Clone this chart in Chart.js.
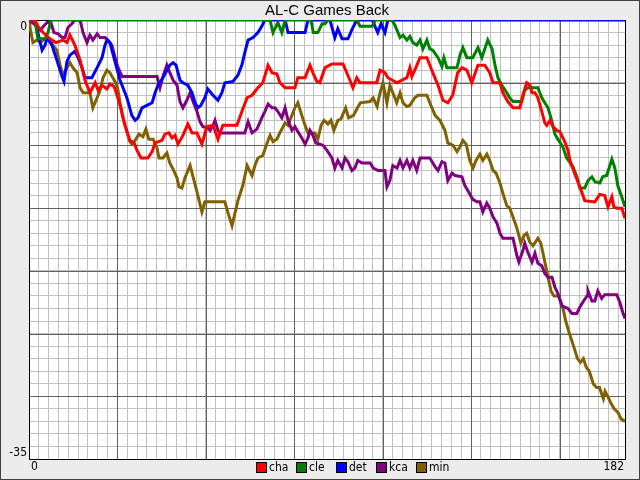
<!DOCTYPE html>
<html>
<head>
<meta charset="utf-8">
<script src="https://cdn.jsdelivr.net/npm/chart.js@4/dist/chart.umd.min.js"></script>
<style>
  html, body { margin: 0; padding: 0; background: #ececec; }
  canvas { display: block; }
</style>
</head>
<body>
<canvas id="gbChart" width="640" height="480"></canvas>
<script>
// AL-C games back by day of season: [day, games back]
const teams = ['cha', 'cle', 'det', 'kca', 'min'];
const teamColors = ['#ff0000', '#008000', '#0000ff', '#800080', '#806000'];

const chaGB = [[0,0],[1.8,0],[2.7,0.5],[4.3,1.0],[6.4,1.5],[8.2,1.8],[10.4,1.6],[11.6,1.8],[12.5,1.2],[14.0,2.0],[15.6,3.2],[17.1,4.8],[18.6,5.8],[20.2,5.0],[21.1,5.6],[22.3,5.2],[23.8,5.5],[24.7,5.1],[26.0,5.3],[26.9,6.0],[27.8,6.8],[29.3,8.4],[30.8,9.6],[32.1,9.8],[33.0,10.4],[34.2,11],[36.3,11],[37.6,10.5],[38.5,9.8],[40.6,9.6],[41.5,9.1],[42.7,9.0],[43.7,9.4],[44.6,9.2],[45.5,9.9],[47.0,9.2],[48.5,8.3],[49.8,9.0],[51.3,9.0],[52.8,9.9],[54.3,8.5],[56.2,8.4],[57.7,9.5],[59.2,8.4],[63.5,8.4],[65.0,7.3],[66.6,6.2],[68.1,6.0],[69.9,5.4],[71.4,5.0],[73.0,3.6],[74.2,4.2],[75.7,4.3],[76.6,5.0],[78.2,5.4],[81.2,5.4],[82.1,4.6],[84.3,4.6],[85.8,3.6],[87.0,4.4],[87.9,4.9],[88.8,5.0],[90.4,3.8],[92.5,3.5],[95.9,3.5],[98.0,4.8],[98.9,5.4],[100.1,4.6],[101.1,5.0],[106.2,5.0],[107.2,4.0],[108.7,4.2],[109.6,4.6],[112.4,5.0],[113.9,4.8],[115.4,4.6],[116.3,3.8],[116.9,4.5],[117.8,4.0],[119.4,3.0],[121.5,3.0],[123.3,4.2],[124.9,5.2],[126.4,6.4],[127.9,6.6],[129.4,6.0],[130.9,4.2],[132.2,3.8],[133.7,4.0],[135.2,5.0],[137.1,3.6],[139.2,3.6],[140.7,4.2],[141.7,5.0],[143.8,5.0],[144.7,5.8],[146.2,6.5],[147.8,7.0],[149.9,7.0],[150.8,6.0],[152.0,5.0],[153.0,5.2],[153.6,5.8],[154.5,5.8],[155.4,6.2],[156.6,7.3],[157.5,8.2],[158.1,8.4],[159.1,8.0],[160.0,8.5],[161.2,8.8],[162.1,8.9],[163.6,9.7],[164.6,10.4],[165.2,11.2],[166.7,12.3],[168.2,13.3],[169.7,14.4],[172.8,14.5],[174.3,13.9],[175.8,14.0],[176.8,14.9],[178.0,14.1],[178.6,14.9],[179.5,15.0],[181.0,15.0],[182,15.8]];

const cleGB = [[0,0],[1.8,0],[2.7,1.5],[4.9,1.5],[5.8,1.0],[6.7,0],[73.6,0],[74.5,1.0],[76.0,0.2],[77.2,1.0],[78.2,0],[86.1,0],[86.8,1.0],[88.2,1.0],[89.5,0.3],[90.4,0.3],[91.3,0],[100.1,0],[101.1,0.5],[104.8,0.5],[105.8,0],[110.8,0],[111.7,0.4],[113.3,1.4],[114.2,1.2],[115.4,1.6],[116.3,1.3],[117.2,1.8],[118.4,2.0],[119.4,1.6],[120.3,2.3],[121.5,1.6],[122.4,2.3],[123.3,2.4],[124.9,3.0],[126.1,3.7],[126.7,3.0],[127.6,3.8],[130.7,3.8],[131.6,2.8],[132.5,2.2],[133.7,3.0],[135.5,3.0],[137.1,2.2],[138.3,3.0],[140.1,1.6],[141.4,2.3],[142.3,3.6],[143.2,4.6],[144.4,5.2],[145.9,5.8],[146.8,6.2],[147.8,6.5],[150.5,6.5],[151.4,5.6],[152.3,5.4],[155.4,5.4],[156.6,6.2],[157.5,6.6],[158.5,7.0],[159.7,8.1],[160.6,9.1],[161.5,9.5],[163.0,10.1],[164.2,11.0],[166.1,11.7],[167.3,12.5],[168.2,13.4],[169.7,13.4],[170.7,12.8],[171.9,12.5],[172.8,12.9],[174.3,13.0],[175.2,12.5],[176.4,12.4],[177.4,11.6],[178.0,11.1],[178.9,11.8],[179.8,13.2],[181.0,14.1],[182,14.9]];

const detGB = [[0,0],[1.8,0],[2.7,1.0],[4.0,2.4],[4.9,2.0],[5.5,1.4],[7.0,2.0],[8.5,3.2],[10.1,4.5],[10.7,4.9],[11.6,3.3],[12.5,2.8],[14.0,2.5],[15.0,3.0],[16.2,3.8],[17.1,4.6],[19.2,4.6],[20.8,3.8],[22.3,3.0],[23.2,2.0],[23.8,1.6],[24.7,1.8],[27.8,4.8],[29.9,6.2],[31.4,7.6],[32.4,8.0],[33.3,7.8],[34.5,7.0],[36.0,6.8],[37.6,6.6],[38.5,5.8],[39.4,5.2],[40.9,4.6],[43.0,3.6],[44.0,3.4],[44.9,3.6],[45.5,4.2],[46.1,4.8],[47.0,5.0],[48.5,5.2],[49.8,5.8],[50.7,6.6],[51.6,7.0],[52.5,6.8],[53.7,6.2],[54.6,5.5],[56.2,6.0],[57.7,6.4],[58.9,5.8],[59.8,5.0],[62.3,4.9],[63.8,4.4],[65.0,3.6],[65.9,2.6],[66.9,1.6],[68.4,1.4],[69.9,1.0],[71.1,0.5],[72.0,0],[78.2,0],[79.1,1.0],[84.3,1.0],[85.2,0],[91.9,0],[93.4,1.4],[94.3,0.7],[95.6,1.5],[97.4,1.5],[98.9,0.6],[100.1,0],[104.8,0],[106.5,1.0],[107.5,0.3],[108.7,1.0],[109.6,0],[182,0]];

const kcaGB = [[0,0],[1.5,0.3],[3.4,0.8],[5.5,0.2],[6.7,0.2],[7.6,1.0],[8.9,1.1],[10.1,1.4],[11.0,1.4],[11.9,0.6],[13.1,0.3],[14.0,0],[15.6,0],[16.5,1.0],[17.7,1.8],[18.6,1.2],[19.5,1.6],[20.8,1.1],[21.7,1.4],[23.2,1.4],[24.1,1.6],[25.3,2.0],[26.3,3.0],[27.2,3.8],[28.4,4.5],[39.1,4.5],[40.0,5.4],[40.9,4.5],[42.1,3.6],[43.0,4.2],[44.0,4.8],[45.2,5.2],[46.1,6.5],[47.0,7.0],[48.2,6.4],[49.2,5.8],[50.1,6.5],[51.3,7.3],[52.2,8.1],[53.1,8.5],[54.6,8.6],[55.3,8.8],[56.2,8.4],[56.8,8.0],[57.7,8.8],[58.3,9.0],[65.9,9.0],[66.9,8.1],[68.1,9.0],[69.6,8.7],[71.1,7.8],[72.0,7.3],[73.0,6.7],[74.2,7.0],[75.1,7.0],[76.0,7.3],[77.2,7.8],[78.2,7.0],[79.1,8.0],[80.3,8.8],[81.2,8.5],[82.1,8.9],[83.3,9.4],[84.3,9.9],[85.2,9.4],[85.8,8.8],[86.7,9.2],[87.6,9.8],[88.8,9.9],[89.8,10.0],[91.0,10.4],[92.5,11.0],[93.4,11.8],[94.3,11.2],[95.6,11.8],[96.5,11.0],[97.4,11.3],[98.6,12.0],[99.5,11.8],[100.4,11.2],[101.7,11.4],[104.2,11.4],[105.1,11.8],[106.6,12.0],[108.7,12.0],[109.3,13.3],[110.2,12.8],[111.1,11.6],[112.4,11.8],[113.3,11.2],[114.2,11.8],[115.4,11.2],[116.3,11.8],[117.2,11.2],[118.4,12.0],[119.4,11.0],[122.4,11.0],[124.0,11.7],[124.9,12.0],[126.1,11.3],[127.0,11.4],[127.9,12.8],[129.2,12.2],[130.1,12.4],[132.2,12.5],[133.1,13.2],[134.0,13.6],[135.5,14.3],[136.8,14.5],[137.7,14.5],[138.6,15.3],[139.8,14.6],[140.7,15.0],[141.7,15.7],[142.9,16.2],[143.8,17.0],[144.7,17.4],[147.8,17.4],[149.0,18.8],[149.6,19.3],[150.8,18.4],[151.4,17.8],[152.3,18.5],[153.6,19.3],[154.5,18.6],[155.4,19.4],[156.6,19.6],[157.5,20.2],[158.5,20.5],[159.7,20.5],[160.6,21.3],[161.5,21.8],[162.7,22.8],[164.6,23.0],[165.8,23.4],[167.3,23.4],[168.2,22.9],[169.1,22.5],[170.4,22.0],[170.7,21.6],[171.9,22.4],[172.8,22.4],[173.7,21.6],[174.9,22.2],[175.8,21.9],[179.5,21.9],[180.4,22.5],[181.3,23.3],[182,23.8]];

const minGB = [[0,0],[0.3,0.6],[1.2,1.8],[2.4,1.6],[3.4,1.8],[4.3,1.6],[5.5,1.5],[6.4,1.6],[7.3,2.0],[8.5,2.4],[9.5,3.6],[10.4,4.4],[11.6,3.8],[12.5,3.4],[13.4,3.8],[14.7,4.2],[15.6,5.4],[16.5,5.8],[18.6,5.8],[19.5,7.0],[20.8,6.2],[21.7,5.6],[22.6,4.6],[23.8,4.0],[24.7,4.2],[25.6,4.6],[26.9,5.2],[27.8,6.6],[28.7,7.8],[29.9,8.9],[30.8,9.7],[31.4,9.9],[32.4,9.6],[33.6,9.1],[34.8,9.3],[35.7,8.7],[36.6,9.5],[37.9,9.5],[39.1,10.2],[39.7,11.0],[40.9,11.0],[42.1,10.6],[43.0,11.4],[44.0,11.9],[45.2,12.6],[45.8,13.3],[46.7,13.4],[47.6,12.6],[49.2,11.6],[50.1,12.5],[51.3,13.7],[52.8,15.3],[53.7,14.5],[59.8,14.5],[60.8,15.4],[62.0,16.4],[62.9,15.4],[63.8,14.4],[65.3,13.2],[66.6,11.6],[68.1,12.4],[69.0,11.6],[69.9,11.0],[71.4,10.8],[72.7,9.8],[73.6,9.2],[74.5,9.7],[75.7,9.5],[76.6,9.0],[78.2,8.2],[79.1,8.4],[80.3,7.6],[81.2,7.0],[82.1,6.6],[83.3,7.6],[84.3,8.4],[85.2,9.0],[87.3,9.0],[88.2,9.5],[89.2,8.4],[90.1,8.0],[91.3,8.3],[92.2,8.0],[93.1,8.8],[94.3,8.0],[95.2,7.9],[96.7,7.0],[97.6,7.8],[99.1,7.6],[100.3,7.0],[101.2,6.6],[104.2,6.5],[105.1,6.2],[106.3,6.9],[107.2,5.8],[108.1,5.0],[109.3,6.6],[110.2,5.2],[111.1,5.8],[112.3,6.6],[113.3,5.8],[114.2,6.6],[115.4,6.9],[116.3,6.8],[117.8,6.2],[118.8,6.0],[121.5,6.0],[122.4,6.6],[124.0,7.6],[125.5,8.0],[127.0,8.8],[127.9,9.8],[129.5,10.0],[130.7,10.5],[131.6,10.1],[132.5,9.6],[133.5,9.9],[134.6,11.2],[135.6,11.8],[136.5,11.2],[137.7,10.7],[138.6,11.2],[139.8,10.7],[140.7,11.2],[141.7,12.0],[142.6,12.2],[143.8,13.0],[144.7,13.8],[145.9,14.8],[146.8,15.0],[147.8,15.7],[149.0,16.6],[150.2,17.8],[151.1,17.2],[152.0,17.0],[152.9,17.7],[153.9,18.0],[155.4,17.4],[156.3,17.8],[157.2,18.9],[158.5,20.5],[159.4,21.6],[160.3,22.0],[161.8,22.0],[163.0,22.9],[163.9,24.0],[164.9,24.9],[166.3,26.0],[167.5,27.0],[168.4,27.3],[169.3,27.0],[170.2,27.7],[171.1,28.0],[172.3,29.0],[173.3,29.3],[174.2,29.3],[175.4,30.2],[175.9,29.6],[176.9,30.1],[177.8,30.6],[178.7,31.0],[179.9,31.3],[180.8,31.8],[182,32.0]];

const seriesGB = [chaGB, cleGB, detGB, kcaGB, minGB];

// axis range and tick spacing
const xMin = 0, xMax = 182, xMinorStep = 3, xMajorStep = 27;
const yMin = -35, yMax = 0, yMinorStep = 1, yMajorStep = 5;
const xTickLabels = ['0', '182'];
const yTickLabels = ['0', '-35'];
const chartTitle = 'AL-C Games Back';

const labelFont = '12px "Liberation Sans Narrow", "DejaVu Sans Condensed", "Liberation Sans", sans-serif';

function xTicks() {
  let t = [];
  for (let v = xMin; v <= xMax; v += xMinorStep) t.push({ value: v });
  if (t[t.length - 1].value !== xMax) t.push({ value: xMax });
  return t;
}

function yTicks() {
  let t = [];
  for (let v = yMin; v <= yMax; v += yMinorStep) t.push({ value: v });
  return t;
}

// white plot area, major grid lines over the minor ones, black frame, labels, legend
const framePlugin = {
  id: 'frame',
  beforeDraw(chart) {
    let ctx = chart.ctx;
    let a = chart.chartArea;
    ctx.save();
    ctx.fillStyle = '#ececec';
    ctx.fillRect(0, 0, chart.width, chart.height);
    ctx.fillStyle = '#ffffff';
    ctx.fillRect(a.left, a.top, a.right - a.left, a.bottom - a.top);
    ctx.restore();
  },
  beforeDatasetsDraw(chart) {
    let ctx = chart.ctx;
    let a = chart.chartArea;
    let xs = chart.scales.x, ys = chart.scales.y;
    ctx.save();
    ctx.strokeStyle = '#606060';
    ctx.lineWidth = 1;
    ctx.beginPath();
    for (let v = xMin + xMajorStep; v < xMax; v += xMajorStep) {
      let px = Math.round(xs.getPixelForValue(v)) + 0.5;
      ctx.moveTo(px, a.top); ctx.lineTo(px, a.bottom);
    }
    for (let v = yMin + yMajorStep; v < yMax; v += yMajorStep) {
      let py = Math.round(ys.getPixelForValue(v)) + 0.5;
      ctx.moveTo(a.left, py); ctx.lineTo(a.right, py);
    }
    ctx.stroke();
    ctx.strokeStyle = '#000000';
    ctx.strokeRect(Math.round(a.left) + 0.5, Math.round(a.top) + 0.5,
      Math.round(a.right - a.left), Math.round(a.bottom - a.top));
    ctx.restore();
  },
  afterDraw(chart) {
    let ctx = chart.ctx;
    let a = chart.chartArea;
    ctx.save();
    // outer border
    ctx.strokeStyle = '#404040';
    ctx.lineWidth = 1;
    ctx.strokeRect(0.5, 0.5, chart.width - 1, chart.height - 1);

    ctx.fillStyle = '#000000';
    ctx.font = '15px "Liberation Sans", Arial, sans-serif';
    ctx.textAlign = 'center';
    ctx.textBaseline = 'middle';
    ctx.fillText(chartTitle, (a.left + a.right) / 2, 11);

    ctx.font = labelFont;
    ctx.textAlign = 'right';
    ctx.fillText(yTickLabels[0], a.left - 2, a.top + 7);
    ctx.fillText(yTickLabels[1], a.left - 2, a.bottom - 6);
    ctx.textAlign = 'left';
    ctx.fillText(xTickLabels[0], a.left + 2, a.bottom + 8);
    ctx.textAlign = 'right';
    ctx.fillText(xTickLabels[1], a.right - 1, a.bottom + 8);

    // legend
    let lx = 256, ly = 462;
    ctx.textAlign = 'left';
    teams.forEach((t, i) => {
      let bx = lx + i * 40;
      ctx.fillStyle = teamColors[i];
      ctx.fillRect(bx, ly, 11, 11);
      ctx.strokeStyle = '#000000';
      ctx.strokeRect(bx + 0.5, ly + 0.5, 10, 10);
      ctx.fillStyle = '#000000';
      ctx.fillText(t, bx + 13, ly + 6);
    });
    ctx.restore();
  }
};

const ctx = document.getElementById('gbChart').getContext('2d');
const gbChart = new Chart(ctx, {
  type: 'line',
  data: {
    datasets: teams.map((t, i) => ({
      label: t,
      data: seriesGB[i].map(p => ({ x: p[0], y: -p[1] })),
      borderColor: teamColors[i],
      backgroundColor: teamColors[i],
      borderWidth: 3,
      pointRadius: 0,
      tension: 0,
      fill: false
    }))
  },
  options: {
    responsive: false,
    animation: false,
    layout: { padding: { left: 29, right: 15, top: 20, bottom: 21 } },
    plugins: {
      legend: { display: false },
      tooltip: { enabled: false },
      title: { display: false }
    },
    scales: {
      x: {
        type: 'linear',
        min: xMin,
        max: xMax,
        afterBuildTicks: axis => { axis.ticks = xTicks(); },
        ticks: { display: false },
        grid: { color: '#c0c0c0', lineWidth: 1, drawTicks: false },
        border: { display: false }
      },
      y: {
        type: 'linear',
        min: yMin,
        max: yMax,
        afterBuildTicks: axis => { axis.ticks = yTicks(); },
        ticks: { display: false },
        grid: { color: '#c0c0c0', lineWidth: 1, drawTicks: false },
        border: { display: false }
      }
    }
  },
  plugins: [framePlugin]
});
</script>
</body>
</html>
